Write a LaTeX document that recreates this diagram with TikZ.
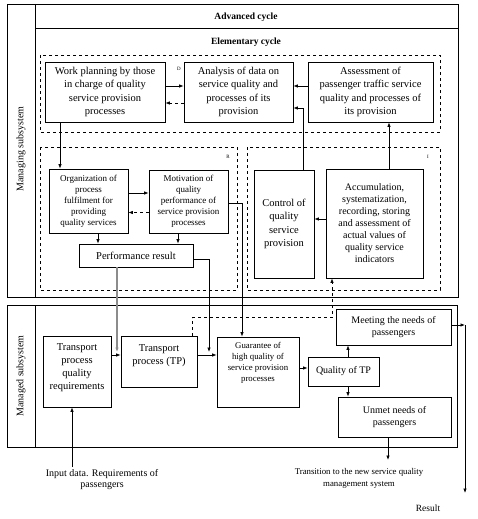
\documentclass[tikz,border=0pt]{standalone}
\usepackage{fontspec}
\setmainfont{Liberation Serif}
\usetikzlibrary{arrows.meta}

\definecolor{flowgray}{HTML}{8C8C8C}

% text lifted inside its box, box kept in place
\newcommand{\liftlines}[2]{\raisebox{#1}[\height][\depth]{\begin{tabular}{@{}c@{}}#2\end{tabular}}}

\tikzset{
  blockbox/.style={draw, line width=0.8pt, align=center, inner sep=1pt},
  cyclebox/.style={draw, dashed, line width=0.7pt},
  flow/.style={line width=0.7pt, -{Latex[length=4.5pt,width=3.5pt]}},
  backflow/.style={flow, dashed},
  tag/.style={font=\fontsize{5}{6}\selectfont},
  fbig/.style={font=\fontsize{10.5}{13.3}\selectfont},
  fmid/.style={font=\fontsize{10}{12}\selectfont},
  fsmall/.style={font=\fontsize{9}{11}\selectfont},
}

\begin{document}
\begin{tikzpicture}[x=1pt,y=-1pt]
\useasboundingbox (0,0) rectangle (478,519);

% frames of the two subsystems
\draw[line width=0.8pt] (7,4) rectangle (458,297);
\draw[line width=0.8pt] (35,4) -- (35,297);
\draw[line width=0.8pt] (35,28) -- (458,28);
\draw[line width=0.8pt] (7,305) rectangle (457,447);
\draw[line width=0.8pt] (35,305) -- (35,447);
\node[rotate=90,fmid] (managing) at (21,149) {Managing subsystem};
\node[rotate=90,fmid] (managed) at (21,376) {Managed subsystem};
\node[font=\fontsize{9.5}{11}\selectfont\bfseries] (advanced) at (246,17) {Advanced cycle};
\node[font=\fontsize{9.5}{11}\selectfont\bfseries] (elementary) at (246,42) {Elementary cycle};

% dashed cycles
\draw[cyclebox] (40,55) rectangle (440,132);
\draw[cyclebox] (40,147) rectangle (237,290);
\draw[cyclebox] (247,147) rectangle (440,290);
\foreach \name/\x/\y in {D/179/69,R/228/157,I/428/157}{%
  \node[tag] (tag\name) at (\x,\y) {\name};
}

% managing subsystem blocks
\node[blockbox,fbig,minimum width=120,minimum height=60] (work) at (105,92)
  {Work planning by those\\in charge of quality\\service provision\\processes};
\node[blockbox,fbig,minimum width=109,minimum height=60] (analysis) at (238.5,92)
  {Analysis of data on\\service quality and\\processes of its\\provision};
\node[blockbox,fbig,minimum width=125,minimum height=60] (assess) at (370.5,92)
  {Assessment of\\passenger traffic service\\quality and processes of\\its provision};
\node[blockbox,fsmall,minimum width=79,minimum height=64] (organize) at (88.5,201)
  {Organization of\\process\\fulfilment for\\providing\\quality services};
\node[blockbox,fsmall,minimum width=79,minimum height=63] (motive) at (188.5,201.5)
  {Motivation of\\quality\\performance of\\service provision\\processes};
\node[blockbox,fbig,minimum width=114,minimum height=23] (perf) at (136,255.5)
  {Performance result};
\node[blockbox,fbig,minimum width=60,minimum height=108] (control) at (284,224)
  {Control of\\quality\\service\\provision};
\node[blockbox,font=\fontsize{10}{12}\selectfont,minimum width=97,minimum height=109] (accum) at (374.5,223.5)
  {Accumulation,\\systematization,\\recording, storing\\and assessment of\\actual values of\\quality service\\indicators};

% managed subsystem blocks
\node[blockbox,font=\fontsize{10.5}{12.8}\selectfont,minimum width=68,minimum height=71] (tpreq) at (77,371.5)
  {\liftlines{4pt}{Transport\\process\\quality\\requirements}};
\node[blockbox,fbig,minimum width=76,minimum height=51] (tproc) at (159,361.5)
  {\liftlines{6pt}{Transport\\process (TP)}};
\node[blockbox,font=\fontsize{8.8}{10.8}\selectfont,minimum width=82,minimum height=70] (guarantee) at (258,372)
  {\liftlines{9pt}{Guarantee of\\high quality of\\service provision\\processes}};
\node[blockbox,fmid,minimum width=71,minimum height=29] (quality) at (343.5,371.5)
  {Quality of TP};
\node[blockbox,fmid,minimum width=115,minimum height=36] (meet) at (393.5,327)
  {Meeting the needs of\\passengers};
\node[blockbox,fmid,minimum width=113,minimum height=40] (unmet) at (394.5,417)
  {Unmet needs of\\passengers};

% free ends
\coordinate (perfdrop) at (209,352);
\coordinate (graydrop) at (117,352);
\coordinate (resultcorner) at (465,325);
\coordinate (resultend) at (465,493);
\coordinate (transend) at (388,460);
\coordinate (inputstart) at (72,467);

% elementary cycle links
\draw[flow] ([yshift=6]work.east) -- ([yshift=6]analysis.west);
\draw[backflow] ([yshift=-11]analysis.west) -- ([yshift=-11]work.east);
\draw[flow] ([yshift=6]assess.west) -- ([yshift=6]analysis.east);
\draw[flow] ([xshift=19]control.north) |- ([yshift=-16]analysis.east);
\draw[flow] ([xshift=14.5]accum.north) -- ([xshift=14.5]accum.north |- assess.south);
\draw[flow] ([xshift=-45]work.south) -- ([xshift=-45]work.south |- organize.north);
\draw[flow] ([yshift=8]organize.east) -- ([yshift=8]organize.east -| motive.west);
\draw[backflow] ([yshift=-11]motive.west) -- ([yshift=-11]motive.west -| organize.east);
\draw[flow] ([xshift=9.5]organize.south) -- ([xshift=9.5]organize.south |- perf.north);
\draw[flow] ([xshift=-10.5]motive.south) -- ([xshift=-10.5]motive.south |- perf.north);
\draw[flow] ([yshift=4.5]accum.west) -- ([yshift=4.5]accum.west -| control.east);

% links to the managed subsystem
\draw[flow] ([yshift=-1.5]motive.east) -| ([xshift=-16]guarantee.north);
\draw[flow] ([yshift=-3.5]perf.east) -| (perfdrop);
\draw[flow,flowgray,line width=1.4pt] ([xshift=-19]perf.south) -- (graydrop);
\draw[backflow] ([xshift=33]tproc.north) -- ++(0,-18) -| ([xshift=-42.5]accum.south);

% managed subsystem links
\draw[flow] ([yshift=16.5]tpreq.east) -- ([yshift=16.5]tpreq.east -| tproc.west);
\draw[flow] ([yshift=6.5]tproc.east) -- ([yshift=6.5]tproc.east -| guarantee.west);
\draw[flow] ([yshift=4]guarantee.east) -- ([yshift=4]guarantee.east -| quality.west);
\draw[flow] ([xshift=4.5]quality.north) -- ([xshift=4.5]quality.north |- meet.south);
\draw[flow] ([xshift=4.5]quality.south) -- ([xshift=4.5]quality.south |- unmet.north);
\draw[flow] ([yshift=2]meet.east) -- (resultcorner);
\draw[flow] (resultcorner) -- (resultend);
\draw[flow] ([xshift=-6.5]unmet.south) -- (transend);
\draw[flow] (inputstart) -- ([xshift=-5]tpreq.south);

% outside texts
\node[font=\fontsize{10}{11}\selectfont,align=center] (input) at (102,479.5)
  {Input data. Requirements of\\passengers};
\node[font=\fontsize{8.8}{12}\selectfont,align=center] (transition) at (359,478)
  {Transition to the new service quality\\management system};
\node[font=\fontsize{9.5}{11}\selectfont] (result) at (428,508) {Result};
\end{tikzpicture}
\end{document}
